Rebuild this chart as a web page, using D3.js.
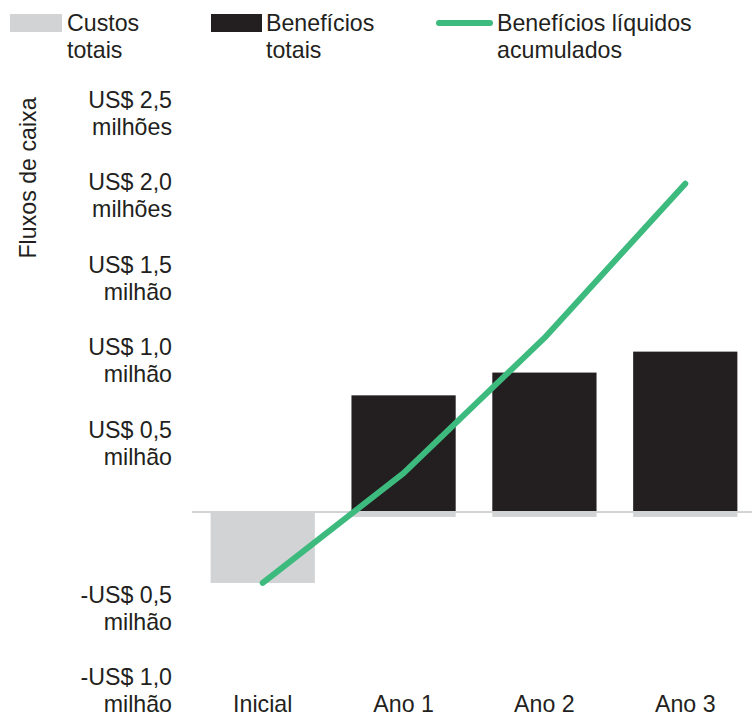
<!DOCTYPE html>
<html>
<head>
<meta charset="utf-8">
<script src="https://cdn.jsdelivr.net/npm/d3@7"></script>
<style>
  html, body { margin: 0; padding: 0; background: #fff; }
  svg { display: block; font-family: "Liberation Sans", Arial, Helvetica, sans-serif; }
</style>
</head>
<body>
<svg id="chart" width="752" height="715"></svg>
<script>
// ---- data ----
const categories = ["Inicial", "Ano 1", "Ano 2", "Ano 3"];
const totalCosts = [-0.43, -0.03, -0.03, -0.03];          // US$ milhões
const totalBenefits = [0, 0.707, 0.845, 0.972];           // US$ milhões
const cumulativeNet = [-0.43, 0.236, 1.055, 1.99];        // US$ milhões
const tickValues = [2.5, 2.0, 1.5, 1.0, 0.5, -0.5, -1.0];
const tickLine1 = ["US$ 2,5", "US$ 2,0", "US$ 1,5", "US$ 1,0", "US$ 0,5", "-US$ 0,5", "-US$ 1,0"];
const tickLine2 = ["milhões", "milhões", "milhão", "milhão", "milhão", "milhão", "milhão"];
const legendLabels = [["Custos", "totais"], ["Benefícios", "totais"], ["Benefícios líquidos", "acumulados"]];
const axisTitle = "Fluxos de caixa";

// ---- styles ----
const GRAY = "#d1d3d4", BLACK = "#231f20", GREEN = "#3dba7e", TEXT = "#231f20";
const FS = 23.2;

const svg = d3.select("#chart");

const x = d3.scaleBand().domain(categories).range([194, 754]).paddingInner(0.26).paddingOuter(0.118);
const y = d3.scaleLinear().domain([-1.0, 2.5]).range([677, 99.5]);

// y tick labels
const yt = svg.append("g").selectAll("g").data(tickValues).join("g")
  .attr("transform", d => `translate(172,${y(d)})`);
yt.append("text").attr("text-anchor", "end").attr("y", 8).attr("font-size", FS).attr("fill", TEXT)
  .text((d, i) => tickLine1[i]);
yt.append("text").attr("text-anchor", "end").attr("y", 35).attr("font-size", FS).attr("fill", TEXT)
  .text((d, i) => tickLine2[i]);

// axis title
svg.append("text").attr("transform", "translate(36,178) rotate(-90)").attr("text-anchor", "middle")
  .attr("font-size", FS).attr("fill", TEXT).text(axisTitle);

// cost bars
svg.append("g").selectAll("rect").data(categories).join("rect")
  .attr("x", d => x(d)).attr("width", x.bandwidth())
  .attr("y", y(0)).attr("height", (d, i) => y(totalCosts[i]) - y(0))
  .attr("fill", GRAY);

// benefit bars
svg.append("g").selectAll("rect").data(categories.filter((d, i) => totalBenefits[i] > 0)).join("rect")
  .attr("x", d => x(d)).attr("width", x.bandwidth())
  .attr("y", d => y(totalBenefits[categories.indexOf(d)]))
  .attr("height", d => y(0) - y(totalBenefits[categories.indexOf(d)]))
  .attr("fill", BLACK);

// zero line
svg.append("line").attr("x1", 192).attr("x2", 752).attr("y1", y(0)).attr("y2", y(0))
  .attr("stroke", GRAY).attr("stroke-width", 2);

// cumulative line
const line = d3.line().x((d, i) => x(categories[i]) + x.bandwidth() / 2).y(d => y(d));
svg.append("path").datum(cumulativeNet).attr("d", line)
  .attr("fill", "none").attr("stroke", GREEN).attr("stroke-width", 6)
  .attr("stroke-linecap", "round").attr("stroke-linejoin", "round");

// x labels
svg.append("g").selectAll("text").data(categories).join("text")
  .attr("x", d => x(d) + x.bandwidth() / 2).attr("y", 712)
  .attr("text-anchor", "middle").attr("font-size", FS).attr("fill", TEXT)
  .text(d => d);

// legend
const lg = svg.append("g");
const legendX = [10, 211, 437];
const legendTextX = [67, 266, 497];
lg.append("rect").attr("x", legendX[0]).attr("y", 14).attr("width", 52).attr("height", 18).attr("fill", GRAY);
lg.append("rect").attr("x", legendX[1]).attr("y", 14).attr("width", 51).attr("height", 18).attr("fill", BLACK);
lg.append("line").attr("x1", legendX[2] + 2).attr("x2", legendX[2] + 53).attr("y1", 23).attr("y2", 23)
  .attr("stroke", GREEN).attr("stroke-width", 6).attr("stroke-linecap", "round");
legendLabels.forEach((lab, i) => {
  lab.forEach((t, j) => {
    lg.append("text").attr("x", legendTextX[i]).attr("y", 31 + j * 27)
      .attr("font-size", FS).attr("fill", TEXT).text(t);
  });
});
</script>
</body>
</html>
